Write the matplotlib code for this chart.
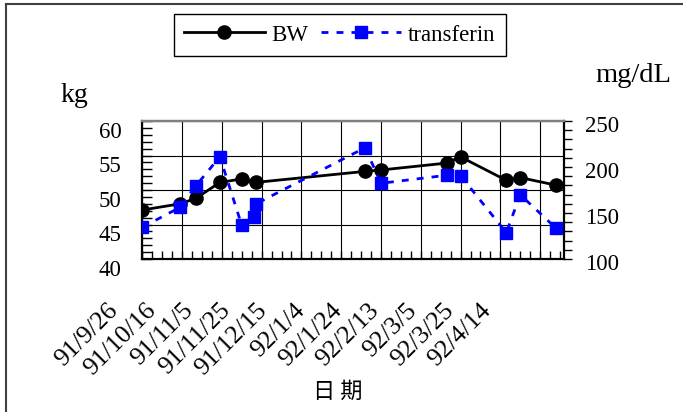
import matplotlib
matplotlib.use('Agg')
import matplotlib.pyplot as plt
import matplotlib.dates as mdates
import matplotlib.transforms as mtransforms
from matplotlib.ticker import MultipleLocator, FixedLocator
from matplotlib.lines import Line2D
import pandas as pd

# ---- data ----
bw_dates = ['2002-09-26', '2002-10-15', '2002-10-23', '2002-11-04', '2002-11-15',
            '2002-11-22', '2003-01-16', '2003-01-24', '2003-02-26', '2003-03-05',
            '2003-03-28', '2003-04-04', '2003-04-22']
bw_values = [47.1, 48.0, 48.8, 51.1, 51.6, 51.1, 52.7, 52.9, 53.9, 54.8, 51.4, 51.8, 50.7]

tf_dates = ['2002-09-26', '2002-10-15', '2002-10-23', '2002-11-04', '2002-11-15',
            '2002-11-21', '2002-11-22', '2003-01-16', '2003-01-24', '2003-02-26',
            '2003-03-05', '2003-03-28', '2003-04-04', '2003-04-22']
tf_values = [134.5, 156.2, 179.7, 211.2, 136.6, 145.3, 159.8, 221.0, 182.3, 191.0,
             190.5, 128.6, 169.9, 133.4]

tick_labels = ['91/9/26', '91/10/16', '91/11/5', '91/11/25', '91/12/15', '92/1/4',
               '92/1/24', '92/2/13', '92/3/5', '92/3/25', '92/4/14']
tick_dates = pd.date_range('2002-09-26', periods=len(tick_labels), freq='20D')
x_start, x_end = '2002-09-26', '2003-04-26'

series_names = ['BW', 'transferin']
left_unit, right_unit = 'kg', 'mg/dL'
xlabel = '日 期'

# ---- style ----
W, H = 683, 412
DPI = 100
SERIF = ['Liberation Serif', 'DejaVu Serif']
CJK = ['Noto Sans CJK TC', 'DejaVu Sans']
plt.rcParams['font.family'] = SERIF
FS = 16.5

fig = plt.figure(figsize=(W / DPI, H / DPI), dpi=DPI)
L, R, T, B = 142.3, 564.0, 121.0, 259.0
ax = fig.add_axes([L / W, 1 - B / H, (R - L) / W, (B - T) / H])
ax2 = ax.twinx()

bw_x = pd.to_datetime(bw_dates)
tf_x = pd.to_datetime(tf_dates)

l1, = ax.plot(bw_x, bw_values, color='black', lw=2.0, marker='o', markersize=9.5,
              markerfacecolor='black', markeredgecolor='black', zorder=3)
l2, = ax2.plot(tf_x, tf_values, color='#0000FF', lw=2.0, ls=(0, (2.5, 2.9)),
               marker='s', markersize=9.2, markerfacecolor='#0000FF',
               markeredgecolor='#0000FF', zorder=3)

ax.set_xlim(pd.Timestamp(x_start), pd.Timestamp(x_end))
ax.set_ylim(40, 60)
ax2.set_ylim(100, 250)

# grid
ax.set_xticks(tick_dates)
ax.xaxis.set_minor_locator(FixedLocator(mdates.date2num(
    pd.date_range(x_start, x_end, freq='5D'))))
ax.yaxis.set_major_locator(MultipleLocator(5))
ax.yaxis.set_minor_locator(MultipleLocator(1))
ax2.yaxis.set_major_locator(MultipleLocator(50))
ax2.yaxis.set_minor_locator(MultipleLocator(10))
ax.grid(True, which='major', color='black', lw=0.8)
ax.set_axisbelow(True)

ax.tick_params(axis='x', which='both', direction='in', length=6, width=1,
               labelbottom=False, bottom=True, top=False)
ax.tick_params(axis='y', which='both', direction='in', length=7, width=1,
               labelsize=FS, pad=14.8, right=False)
ax2.tick_params(axis='y', which='both', direction='out', length=5.8, width=1,
                labelsize=FS, pad=9.4)

for sp in ['left', 'bottom']:
    ax.spines[sp].set_linewidth(1.6)
    ax.spines[sp].set_color('black')
ax.spines['top'].set_color('#808080')
ax.spines['top'].set_linewidth(1.6)
ax.spines['right'].set_visible(False)
ax2.spines['right'].set_linewidth(1.6)
ax2.spines['top'].set_color('#808080')
ax2.spines['top'].set_linewidth(1.6)
ax2.spines['left'].set_visible(False)
ax2.spines['bottom'].set_visible(False)

# shift tick labels down slightly (as in reference)
fig.canvas.draw()
off_l = mtransforms.ScaledTranslation(0, -9 / DPI, fig.dpi_scale_trans)
for lab in ax.get_yticklabels():
    lab.set_transform(lab.get_transform() + off_l)
off_r = mtransforms.ScaledTranslation(0, -3 / DPI, fig.dpi_scale_trans)
for lab in ax2.get_yticklabels():
    lab.set_transform(lab.get_transform() + off_r)

# rotated date labels
base = mtransforms.blended_transform_factory(ax.transData, ax.transAxes)
for i, (d, lab) in enumerate(zip(tick_dates, tick_labels)):
    dx = (-27.5 - 2.5 * i) / DPI
    tr = base + mtransforms.ScaledTranslation(dx, -48 / DPI, fig.dpi_scale_trans)
    ax.text(mdates.date2num(d), 0, lab, transform=tr, rotation=45,
            rotation_mode='anchor', ha='right', va='center', fontsize=18.5,
            clip_on=False)

fig.text(338 / W, 1 - 391 / H, xlabel, ha='center', va='center', fontsize=16,
         family=CJK)
fig.text(74 / W, 1 - 96 / H, left_unit, ha='center', va='center', fontsize=20)
fig.text(633 / W, 1 - 75 / H, right_unit, ha='center', va='center', fontsize=20.5)

leg = fig.legend([l1, l2], series_names, loc='center',
                 bbox_to_anchor=(340 / W, 1 - 35 / H), ncol=2, frameon=True,
                 fancybox=False, edgecolor='black', framealpha=1,
                 handlelength=3.5, handletextpad=0.3, columnspacing=0.55,
                 borderpad=0.45, fontsize=16.5)
leg.get_frame().set_linewidth(1.0)

# outer chart border (only top/left visible in the image)
fig.add_artist(Line2D([6 / W, 6 / W], [0, 1 - 4 / H], transform=fig.transFigure,
                      color='#404040', lw=1.5))
fig.add_artist(Line2D([6 / W, 1], [1 - 4 / H, 1 - 4 / H], transform=fig.transFigure,
                      color='#404040', lw=1.5))

fig.savefig('out.png', dpi=DPI)
